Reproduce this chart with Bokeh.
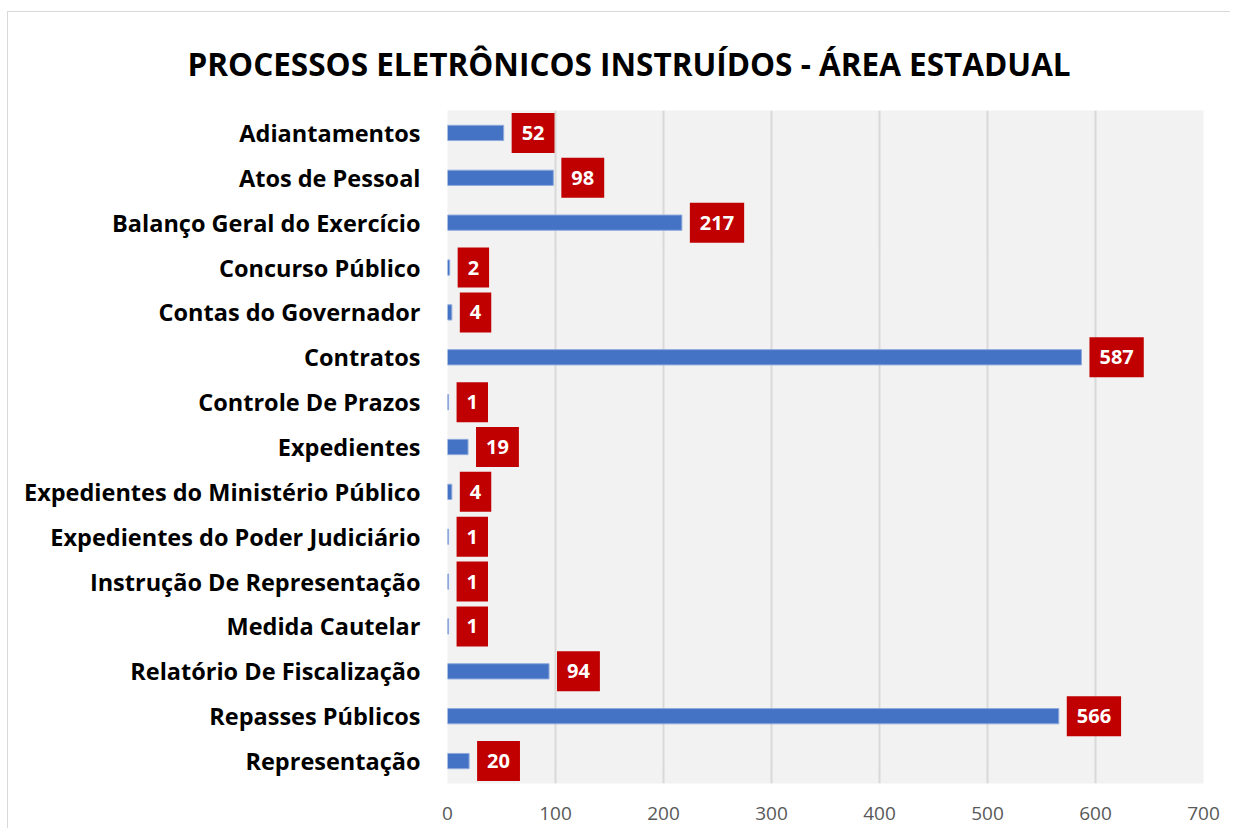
from bokeh.plotting import figure
from bokeh.models import ColumnDataSource, FactorRange, Title, FixedTicker
from bokeh.core.properties import value
from bokeh.embed import file_html
from bokeh.resources import INLINE

categories = ["Adiantamentos", "Atos de Pessoal", "Balanço Geral do Exercício", "Concurso Público",
              "Contas do Governador", "Contratos", "Controle De Prazos", "Expedientes",
              "Expedientes do Ministério Público", "Expedientes do Poder Judiciário",
              "Instrução De Representação", "Medida Cautelar", "Relatório De Fiscalização",
              "Repasses Públicos", "Representação"]
counts = [52, 98, 217, 2, 4, 587, 1, 19, 4, 1, 1, 1, 94, 566, 20]
x_ticks = [0, 100, 200, 300, 400, 500, 600, 700]
title_text = "PROCESSOS ELETRÔNICOS INSTRUÍDOS - ÁREA ESTADUAL"

src = ColumnDataSource(dict(cat=categories, val=counts, lbl=[str(v) for v in counts]))

W, H = 1223, 817
p = figure(width=W, height=H, output_backend="svg", toolbar_location=None,
           y_range=FactorRange(*reversed(categories), range_padding=0),
           x_range=(0, 700), min_border_left=439, min_border_right=28,
           min_border_top=98, min_border_bottom=46)
p.title = None
p.styles = {"margin-left": "7px", "margin-top": "11px",
            "border-left": "1px solid #D9D9D9", "border-top": "1px solid #D9D9D9"}

t = Title(text=title_text, align="left", offset=-260,
          text_font="Open Sans", text_font_size="31.5px", text_font_style="bold",
          text_color="#000000", standoff=51)
p.add_layout(t, "above")

p.background_fill_color = "#F2F2F2"
p.border_fill_color = "#FFFFFF"
p.outline_line_color = None

p.hbar(y="cat", right="val", left=0, height=0.34, source=src,
       fill_color="#4472C4", line_color="#8FAADC", line_width=1)

p.text(x="val", y="cat", text="lbl", source=src, x_offset=8,
       text_align="left", text_baseline="middle",
       text_font=value("Open Sans"), text_font_size="20px", text_font_style="bold",
       text_color="#FFFFFF", background_fill_color="#C00000",
       padding=(10, 13))

p.xaxis.ticker = FixedTicker(ticks=x_ticks)
p.xaxis.axis_line_color = None
p.xaxis.major_tick_line_color = None
p.xaxis.minor_tick_line_color = None
p.xaxis.major_label_text_font = "Open Sans"
p.xaxis.major_label_text_font_size = "19px"
p.xaxis.major_label_text_color = "#595959"
p.xaxis.major_label_standoff = 17

p.yaxis.axis_line_color = None
p.yaxis.major_tick_line_color = None
p.yaxis.minor_tick_line_color = None
p.yaxis.major_label_text_font = "Open Sans"
p.yaxis.major_label_text_font_size = "23.5px"
p.yaxis.major_label_text_font_style = "bold"
p.yaxis.major_label_text_color = "#000000"
p.yaxis.major_label_standoff = 21

p.xgrid.grid_line_color = "#D9D9D9"
p.xgrid.grid_line_width = 2
p.ygrid.grid_line_color = None

open("out.html", "w").write(file_html(p, INLINE))
